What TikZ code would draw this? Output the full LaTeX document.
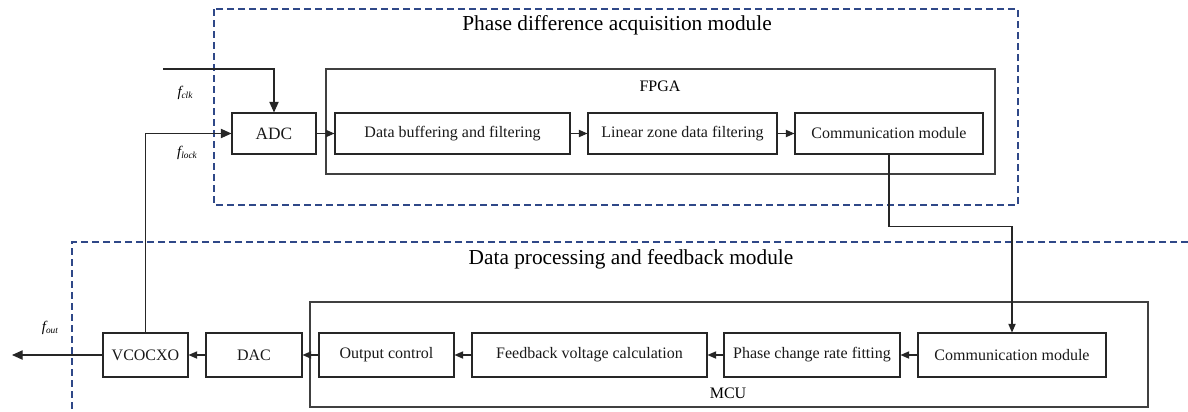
\documentclass[tikz,border=0pt]{standalone}
\usepackage{fontspec}
\setmainfont{Liberation Serif}
\usetikzlibrary{arrows.meta,calc}

\begin{document}
\begin{tikzpicture}[x=0.75pt,y=-0.75pt,
  blk/.style={draw=black!85,line width=0.8pt,rectangle,inner sep=0pt,
    font=\fontsize{12}{14}\selectfont,text=black!90},
  outer/.style={draw=black!75,line width=0.9pt},
  group/.style={draw={rgb,255:red,47;green,72;blue,136},line width=0.9pt,
    dash pattern=on 5.25pt off 3pt},
  arr/.style={draw=black!85,line width=0.8pt,
    -{Triangle[length=6.5pt,width=5.5pt]}},
  arrbig/.style={draw=black!85,line width=0.85pt,
    -{Triangle[length=8pt,width=7pt]}},
  title/.style={font=\fontsize{16}{19}\selectfont},
  tag/.style={font=\fontsize{12}{14}\selectfont},
  sig/.style={font=\fontsize{11}{13}\selectfont\itshape}
]
\useasboundingbox (0,0) rectangle (1188,411);

% module frames
\draw[group] (214,9) rectangle (1018,205);
\draw[group] (1188,242) -- (72,242) -- (72,411);
\node[title] (t1) at (617,25) {Phase difference acquisition module};
\node[title] (t2) at (631,259) {Data processing and feedback module};

% FPGA
\draw[outer] (326,69) rectangle (995,174);
\node[tag] (fpga) at (660,86) {FPGA};
\node[blk,minimum width=84*0.75pt,minimum height=41*0.75pt,
  font=\fontsize{13}{15}\selectfont] (adc) at (274,133.5) {ADC};
\node[blk,minimum width=235*0.75pt,minimum height=41*0.75pt] (buf) at (452.5,133.5) {Data buffering and filtering};
\node[blk,minimum width=189*0.75pt,minimum height=41*0.75pt] (lin) at (682.5,133.5) {Linear zone data filtering};
\node[blk,minimum width=188*0.75pt,minimum height=41*0.75pt] (ctop) at (889,133.5) {Communication module};

% MCU
\draw[outer] (310,302) rectangle (1148,407);
\node[tag] (mcu) at (728,393) {MCU};
\node[blk,minimum width=85*0.75pt,minimum height=44*0.75pt] (vco) at (145.5,355) {VCOCXO};
\node[blk,minimum width=96*0.75pt,minimum height=44*0.75pt] (dac) at (254,355) {DAC};
\node[blk,minimum width=135*0.75pt,minimum height=44*0.75pt] (oc) at (386.5,355) {Output control};
\node[blk,minimum width=235*0.75pt,minimum height=44*0.75pt] (fb) at (589.5,355) {Feedback voltage calculation};
\node[blk,minimum width=176*0.75pt,minimum height=44*0.75pt] (pc) at (812,355) {Phase change rate fitting};
\node[blk,minimum width=188*0.75pt,minimum height=44*0.75pt] (cbot) at (1012,355) {Communication module};

% signal chain
\draw[arr] (adc) -- (buf);
\draw[arr] (buf) -- (lin);
\draw[arr] (lin) -- (ctop);
\draw[arr] (ctop.south) -- ++(0,72) -| (cbot.north);
\draw[arr] (cbot) -- (pc);
\draw[arr] (pc) -- (fb);
\draw[arr] (fb) -- (oc);
\draw[arr] (oc) -- (dac);
\draw[arr] (dac) -- (vco);

% clock inputs and output
\coordinate (clkin) at (163,69);
\coordinate (out) at (12,355);
\draw[arrbig] (clkin) -| (adc.north);
\draw[arrbig] (vco.north) |- (adc.west);
\draw[arrbig] (vco.west) -- (out);

\node[sig] (lclk) at (185,93) {f\raisebox{-0.35ex}{\fontsize{7}{8}\selectfont clk}};
\node[sig] (llock) at (187,153) {f\raisebox{-0.35ex}{\fontsize{7}{8}\selectfont lock}};
\node[sig] (lout) at (50,328) {f\raisebox{-0.35ex}{\fontsize{7}{8}\selectfont out}};
\end{tikzpicture}
\end{document}
